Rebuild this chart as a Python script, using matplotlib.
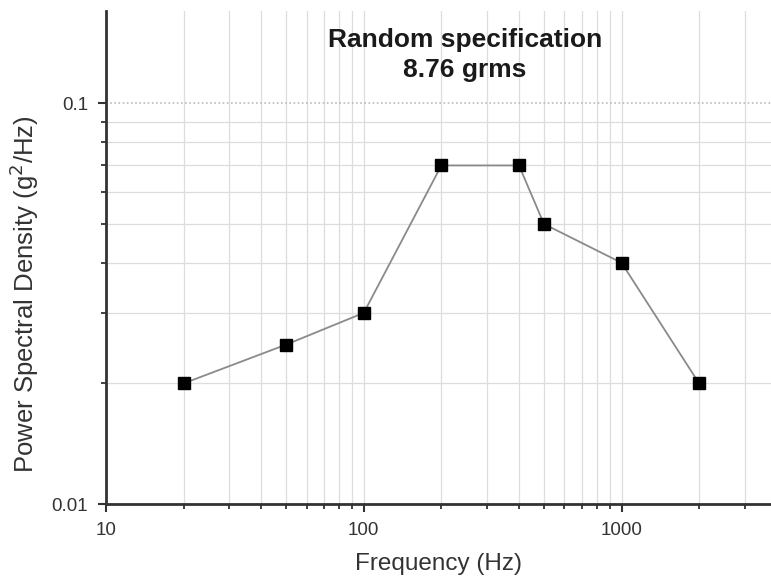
import numpy as np
import matplotlib.pyplot as plt
from matplotlib.ticker import LogLocator, NullFormatter, FixedLocator

plt.rcParams['font.family'] = ['Liberation Sans', 'DejaVu Sans']

freq = [20, 50, 100, 200, 400, 500, 1000, 2000]
psd = [0.02, 0.025, 0.03, 0.07, 0.07, 0.05, 0.04, 0.02]
x_ticks = [10, 100, 1000]
x_labels = ['10', '100', '1000']
y_ticks = [0.01, 0.1]
y_labels = ['0.01', '0.1']

fig = plt.figure(figsize=(7.71, 5.82), dpi=100)
ax = fig.add_axes([0.1375, 0.134, 0.8625, 0.847])

ax.plot(freq, psd, color='#8a8a8a', lw=1.3, marker='s', ms=8,
        mfc='black', mec='black', zorder=3)

ax.set_xscale('log')
ax.set_yscale('log')
ax.set_xlim(10, 3800)
ax.set_ylim(0.01, 0.17)

ax.xaxis.set_major_locator(FixedLocator(x_ticks))
ax.set_xticklabels(x_labels)
ax.yaxis.set_major_locator(FixedLocator(y_ticks))
ax.set_yticklabels(y_labels)
ax.xaxis.set_minor_locator(LogLocator(base=10, subs=np.arange(2, 10)))
ax.yaxis.set_minor_locator(LogLocator(base=10, subs=np.arange(2, 10)))
ax.xaxis.set_minor_formatter(NullFormatter())
ax.yaxis.set_minor_formatter(NullFormatter())

# grid
ax.grid(True, which='minor', axis='both', color='#dddddd', lw=0.9)
ax.grid(True, which='major', axis='x', color='#dddddd', lw=0.9)
ax.grid(True, which='major', axis='y', color='#bbbbbb', lw=1.2, ls=(0, (1, 1.5)))
ax.set_axisbelow(True)

for s in ['top', 'right']:
    ax.spines[s].set_visible(False)
for s in ['left', 'bottom']:
    ax.spines[s].set_color('#333333')
    ax.spines[s].set_linewidth(2)

ax.tick_params(which='major', length=6, width=1.5, color='#333333',
               labelsize=13.5, labelcolor='#333333', pad=7)
ax.tick_params(which='minor', length=3.5, width=1.3, color='#333333')

ax.set_xlabel('Frequency (Hz)', fontsize=17.5, color='#333333', labelpad=10)
ax.set_ylabel('Power Spectral Density (g$^2$/Hz)', fontsize=18.5, color='#333333')
ax.yaxis.set_label_coords(-0.098, 0.425)

ax.text(0.54, 0.965, 'Random specification\n8.76 grms', transform=ax.transAxes,
        ha='center', va='top', fontsize=19, fontweight='bold', color='#1a1a1a',
        linespacing=1.3)

fig.savefig('out.png', dpi=100)
